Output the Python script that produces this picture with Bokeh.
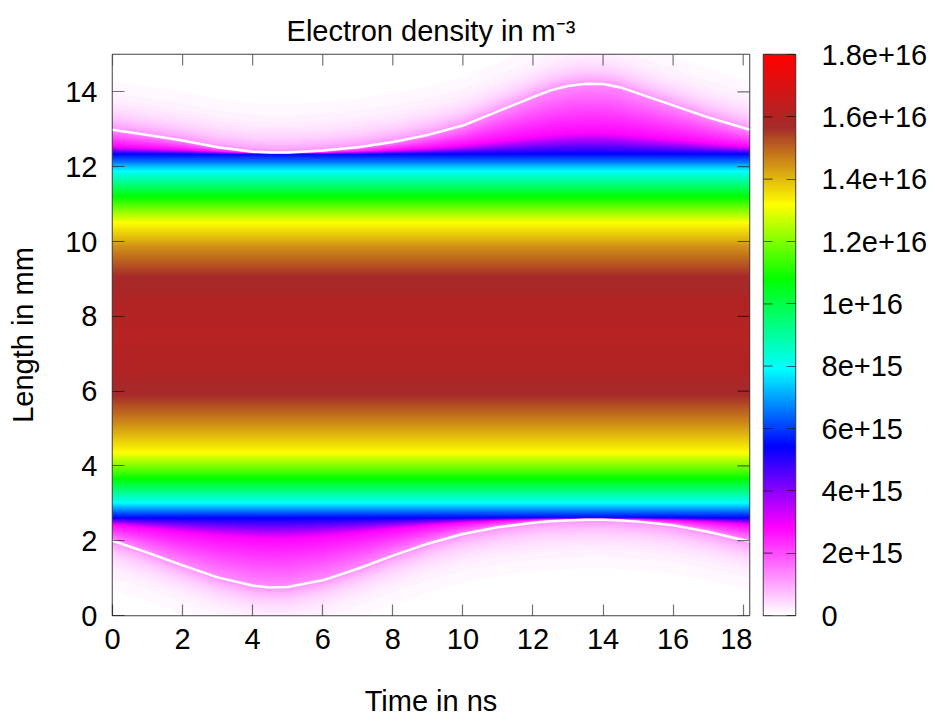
import numpy as np
from bokeh.plotting import figure
from bokeh.models import Range1d, FixedTicker, LinearColorMapper, LinearAxis
from bokeh.layouts import row
from bokeh.embed import file_html
from bokeh.resources import INLINE

# ---------------- data ----------------
T_MAX = 18.18          # ns, right edge of the plot
L_MAX = 15.0           # mm, top edge of the plot

x_ticks = [0, 2, 4, 6, 8, 10, 12, 14, 16, 18]
y_ticks = [0, 2, 4, 6, 8, 10, 12, 14]
cb_ticks = [0, 2, 4, 6, 8, 10, 12, 14, 16, 18]          # in 1e15 m^-3
cb_labels = ["0", "2e+15", "4e+15", "6e+15", "8e+15", "1e+16",
             "1.2e+16", "1.4e+16", "1.6e+16", "1.8e+16"]

# white boundary curves (time in ns, length in mm)
curve_t = [0, 1, 2, 3, 4, 4.5, 5, 6, 7, 8, 9, 10, 11, 12, 12.5, 13, 13.5, 14, 14.5, 15, 16, 17, 18, 18.18]
top_edge = [12.99, 12.85, 12.70, 12.52, 12.40, 12.38, 12.38, 12.43, 12.52, 12.66, 12.85,
            13.10, 13.48, 13.86, 14.04, 14.16, 14.22, 14.21, 14.12, 13.96, 13.64, 13.32, 13.04, 12.99]
bottom_edge = [2.00, 1.68, 1.34, 1.02, 0.80, 0.75, 0.76, 0.94, 1.25, 1.60, 1.92,
               2.18, 2.36, 2.48, 2.52, 2.54, 2.56, 2.56, 2.54, 2.51, 2.41, 2.24, 2.02, 1.98]

# bulk density profile across the gap (length in mm -> density in 1e15 m^-3)
core_y = [2.6, 3.0, 3.65, 4.35, 5.1, 5.9, 6.6, 7.45, 8.3, 9.05, 9.85, 10.5, 11.2, 11.9, 12.35]
core_n = [5.4, 7.9, 10.8, 13.2, 14.5, 15.7, 16.0, 16.15, 16.0, 15.7, 14.5, 13.2, 10.8, 7.9, 5.4]

# sheath profile between bulk edge (s=0) and the white boundary (s=1)
sheath_s = [0.0, 0.3, 1.0]
sheath_n = [5.4, 2.8, 1.3]
tail_len = 0.45        # mm, decay length beyond the white boundary

# colour map stops (1e15 m^-3)
stops = [0, 2.8, 5.4, 7.9, 10.8, 13.2, 15.7, 18.0]
stop_colors = ["#ffffff", "#ff00ff", "#0000ff", "#00ffff", "#00ff00", "#ffff00", "#a52a2a", "#ff0000"]

# ---------------- build the density grid ----------------
nt, ny = 637, 561
tg = np.linspace(0, T_MAX, nt)
yg = np.linspace(0, L_MAX, ny)
T, Y = np.meshgrid(tg, yg)
bt = np.interp(tg, curve_t, top_edge)[None, :]
bb = np.interp(tg, curve_t, bottom_edge)[None, :]

D = np.interp(Y, core_y, core_n)
ct, cbot = core_y[-1], core_y[0]
s_top = (Y - ct) / np.maximum(bt - ct, 1e-6)
sh_top = np.interp(s_top, sheath_s, sheath_n)
out_top = sheath_n[-1] * np.exp(-np.clip(Y - bt, 0, None) / tail_len)
D = np.where(Y > ct, np.where(Y <= bt, sh_top, out_top), D)
s_bot = (cbot - Y) / np.maximum(cbot - bb, 1e-6)
sh_bot = np.interp(s_bot, sheath_s, sheath_n)
out_bot = sheath_n[-1] * np.exp(-np.clip(bb - Y, 0, None) / tail_len)
D = np.where(Y < cbot, np.where(Y >= bb, sh_bot, out_bot), D)

# ---------------- palette ----------------
def hex2rgb(h):
    return [int(h[i:i + 2], 16) for i in (1, 3, 5)]

rgb = np.array([hex2rgb(c) for c in stop_colors], dtype=float)
levels = np.linspace(stops[0], stops[-1], 256)
palette = []
for v in levels:
    r = np.interp(v, stops, rgb[:, 0])
    g = np.interp(v, stops, rgb[:, 1])
    b = np.interp(v, stops, rgb[:, 2])
    palette.append("#%02x%02x%02x" % (int(round(r)), int(round(g)), int(round(b))))

mapper = LinearColorMapper(palette=palette, low=stops[0], high=stops[-1])

FONT = "Liberation Sans"
FS = "29px"
TICK_COLOR = "black"
TICK_ALPHA = 0.55
TICK_W = 1.2

# ---------------- main figure ----------------
p = figure(width=752, height=721, output_backend="svg", toolbar_location=None,
           x_range=Range1d(0, T_MAX), y_range=Range1d(0, L_MAX),
           min_border_left=112, min_border_right=3, min_border_top=54, min_border_bottom=106,
           title="Electron density in m\u207b\u00b3", x_axis_location=None, y_axis_location=None)
p.title.align = "center"
p.title.text_font = FONT
p.title.text_font_size = FS
p.title.text_font_style = "normal"
p.title.text_color = "black"
p.title.standoff = 16
p.grid.visible = False
p.outline_line_color = "#404040"
p.outline_line_width = 1.5
p.background_fill_color = "white"
p.border_fill_color = "white"

p.image(image=[D], x=0, y=0, dw=T_MAX, dh=L_MAX, color_mapper=mapper)
p.line(curve_t, top_edge, line_color="white", line_width=2.5)
p.line(curve_t, bottom_edge, line_color="white", line_width=2.5)

# mirrored inward ticks on the top and right edges
p.ray(x=x_ticks, y=[L_MAX] * len(x_ticks), length=11, length_units="screen",
      angle=-np.pi / 2, line_color=TICK_COLOR, line_alpha=TICK_ALPHA, line_width=TICK_W)
p.ray(x=[T_MAX] * len(y_ticks), y=y_ticks, length=12, length_units="screen",
      angle=np.pi, line_color=TICK_COLOR, line_alpha=TICK_ALPHA, line_width=TICK_W)


def style_axis(ax, ticks, tick_len):
    ax.ticker = FixedTicker(ticks=ticks)
    ax.major_tick_in = tick_len
    ax.major_tick_out = 0
    ax.minor_tick_line_color = None
    ax.axis_line_color = None
    ax.major_tick_line_color = TICK_COLOR
    ax.major_tick_line_alpha = TICK_ALPHA
    ax.major_tick_line_width = TICK_W
    ax.major_label_text_font = FONT
    ax.major_label_text_color = "black"
    ax.major_label_text_font_size = FS
    ax.axis_label_text_font = FONT
    ax.axis_label_text_font_size = FS
    ax.axis_label_text_font_style = "normal"
    ax.axis_label_text_color = "black"


xb = LinearAxis(axis_label="Time in ns")
style_axis(xb, x_ticks, 11)
xb.major_label_standoff = 13
xb.axis_label_standoff = 33
p.add_layout(xb, "below")

yl = LinearAxis(axis_label="Length in mm")
style_axis(yl, y_ticks, 12)
yl.major_label_standoff = 15
yl.axis_label_standoff = 23
p.add_layout(yl, "left")

# ---------------- colour bar figure ----------------
cbf = figure(width=183, height=721, output_backend="svg", toolbar_location=None,
             x_range=Range1d(0, 1), y_range=Range1d(stops[0], stops[-1]),
             min_border_left=11, min_border_right=140, min_border_top=54, min_border_bottom=106,
             x_axis_location=None, y_axis_location=None)
cbf.grid.visible = False
cbf.outline_line_color = "#404040"
cbf.outline_line_width = 1.5
cbf.border_fill_color = "white"
grad = levels.reshape(-1, 1)
cbf.image(image=[grad], x=0, y=stops[0], dw=1, dh=stops[-1] - stops[0], color_mapper=mapper)
cbf.ray(x=[0] * len(cb_ticks), y=cb_ticks, length=9, length_units="screen", angle=0,
        line_color=TICK_COLOR, line_alpha=TICK_ALPHA, line_width=TICK_W)

cr = LinearAxis()
style_axis(cr, cb_ticks, 9)
cr.major_label_standoff = 26
cr.major_label_overrides = {t: lab for t, lab in zip(cb_ticks, cb_labels)}
cbf.add_layout(cr, "right")

layout = row(p, cbf)
open("out.html", "w").write(file_html(layout, INLINE))
